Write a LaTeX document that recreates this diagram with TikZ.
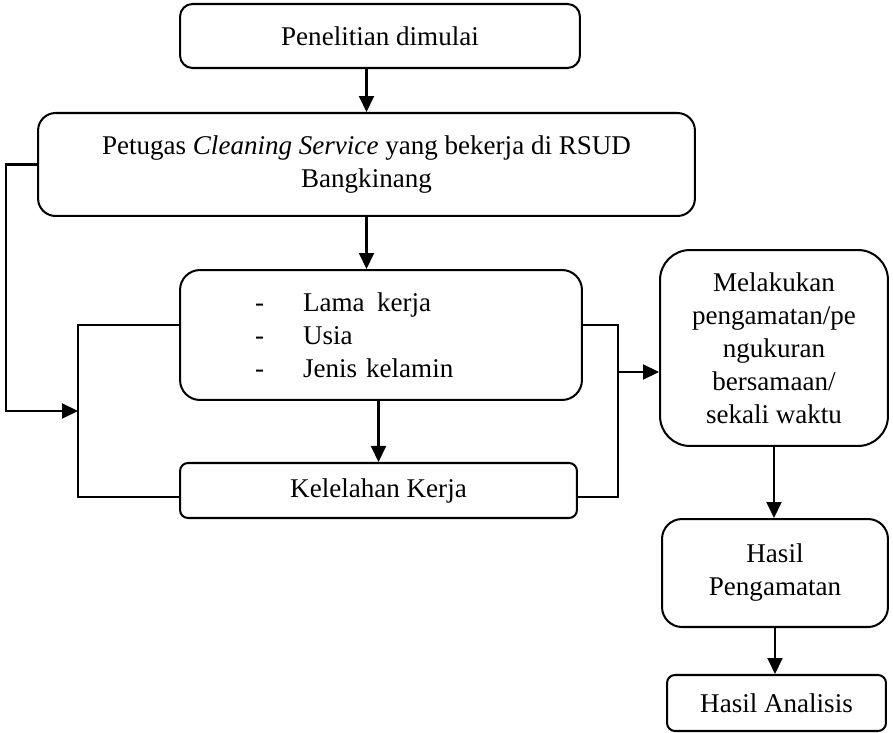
\documentclass[tikz,border=0pt]{standalone}
\usepackage{fontspec}
\setmainfont{Liberation Serif}
\usepackage{tikz}
\usetikzlibrary{arrows.meta, positioning, calc}
\newcommand{\butir}[1]{\hspace*{1.5cm}\makebox[0.96cm][l]{-}#1}

\begin{document}
\begin{tikzpicture}[x=0.02cm, y=-0.02cm,
  every node/.style={font=\fontsize{15.4}{18.8}\selectfont},
  kotak/.style={draw, line width=1.15pt, align=center, inner sep=0pt},
  panah/.style={-{Triangle[length=0.32cm, width=0.3cm]}, line width=1.15pt}]
  \useasboundingbox (0, 0) rectangle (893, 733);
  % --- main column ---------------------------------------------------
  \node[kotak, rounded corners=0.25cm, minimum width=8cm, minimum height=1.28cm]
    (mulai) at (380, 36) {Penelitian dimulai};
  \node[kotak, rounded corners=0.35cm, minimum width=13.14cm, minimum height=2.06cm]
    (subjek) at (366.5, 164.5) {Petugas \textit{Cleaning Service} yang bekerja di RSUD\\ Bangkinang};
  \node[kotak, rounded corners=0.4cm, text width=8.04cm, align=left, minimum height=2.6cm]
    (faktor) at (381, 335) {\butir{Lama\hspace{0.25cm}kerja}\\ \butir{Usia}\\ \butir{Jenis kelamin}};
  \node[kotak, rounded corners=0.16cm, minimum width=7.94cm, minimum height=1.1cm]
    (lelah) at (378.5, 490.5) {Kelelahan Kerja};
  % --- right column --------------------------------------------------
  \node[kotak, rounded corners=0.6cm, minimum width=4.56cm, minimum height=3.92cm]
    (amat) at (774, 348) {Melakukan\\ pengamatan/pe\\ ngukuran\\ bersamaan/\\ sekali waktu};
  \node[kotak, rounded corners=0.4cm, minimum width=4.52cm, minimum height=2.16cm]
    (hasil) at (775, 573) {Hasil\\ Pengamatan};
  \node[kotak, rounded corners=0.16cm, minimum width=4.38cm, minimum height=1.12cm]
    (analisis) at (776.5, 703) {Hasil Analisis};
  % --- bracket joints ------------------------------------------------
  \coordinate (kiri) at (78, 411);
  \coordinate (kanan) at (618, 372);
  % --- arrows --------------------------------------------------------
  \draw[panah] (subjek.north |- mulai.south) -- (subjek.north);
  \draw[panah] (subjek.south) -- (subjek.south |- faktor.north);
  \draw[panah] (lelah.north |- faktor.south) -- (lelah.north);
  \draw[panah] (subjek.west) -- ++(-31, 0) |- (kiri);
  \draw[line width=1.15pt] ([yshift=0.2cm]faktor.west) -| (kiri) |- ([yshift=-0.13cm]lelah.west);
  \draw[line width=1.15pt] ([yshift=0.2cm]faktor.east) -| (kanan) |- ([yshift=-0.13cm]lelah.east);
  \draw[panah] (kanan) -- (kanan -| amat.west);
  \draw[panah] (amat.south) -- (amat.south |- hasil.north);
  \draw[panah] (hasil.south) -- (hasil.south |- analisis.north);
\end{tikzpicture}
\end{document}
